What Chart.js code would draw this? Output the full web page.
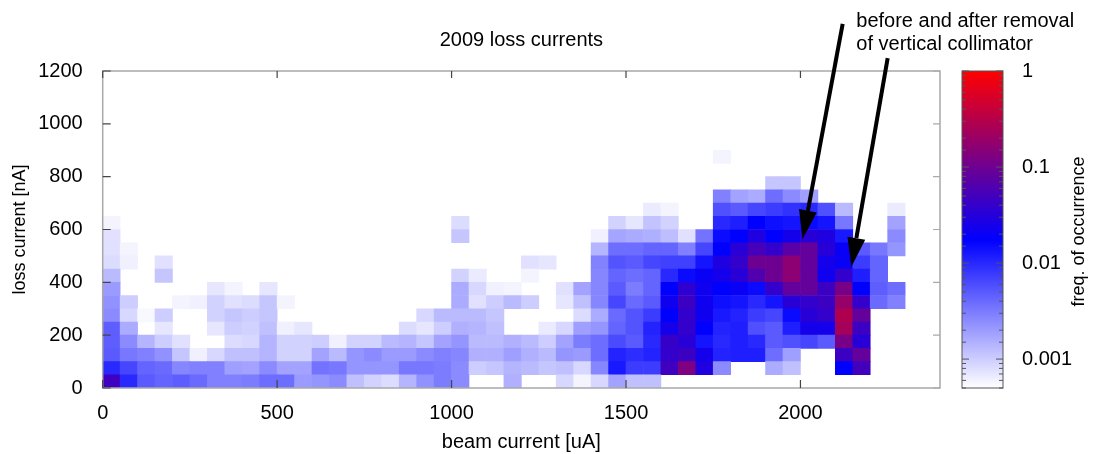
<!DOCTYPE html>
<html lang="en">
<head>
    <meta charset="UTF-8">
    <title>2009 loss currents</title>
    <script src="https://cdn.jsdelivr.net/npm/chart.js"></script>
    <style>
        html, body { margin: 0; padding: 0; background: #fff; }
        #wrap { width: 1094px; height: 454px; }
    </style>
</head>
<body>
<div id="wrap"><canvas id="lossChart" width="1094" height="454"></canvas></div>

<script>
// bin edges of the 2D histogram
const beamEdges = [0, 50, 100, 150, 200, 250, 300, 350, 400, 450, 500, 550, 600, 650, 700, 750,
    800, 850, 900, 950, 1000, 1050, 1100, 1150, 1200, 1250, 1300, 1350, 1400, 1450, 1500, 1550,
    1600, 1650, 1700, 1750, 1800, 1850, 1900, 1950, 2000, 2050, 2100, 2150, 2200, 2250, 2300];
const lossEdges = [0, 50, 100, 150, 200, 250, 300, 350, 400, 450, 500, 550, 600, 650, 700, 750, 800, 850, 900];

const xTicks = [0, 500, 1000, 1500, 2000];
const yTicks = [0, 200, 400, 600, 800, 1000, 1200];
const cbarLabels = [1, 0.1, 0.01, 0.001];

// freq. of occurrence, one array per loss current bin (0 = empty)
const row0 = [0.048, 0.01, 0.005, 0.0043, 0.0047, 0.004, 0.0029, 0.0029, 0.0031, 0.0038,
    0.0038, 0.002, 0.0022, 0.0025, 0.0012, 0.00094, 0.00081, 0.0014, 0.0023, 0.0031,
    0.0025, 0, 0, 0.0015, 0, 0, 0.00087, 0.00058, 0.00087, 0.0018,
    0.0012, 0.0012, 0, 0, 0, 0, 0, 0, 0, 0,
    0, 0, 0, 0, 0, 0];
const row1 = [0.01, 0.0066, 0.0043, 0.004, 0.0027, 0.0029, 0.0029, 0.0019, 0.0018, 0.0025,
    0.0018, 0.0018, 0.0035, 0.0033, 0.0022, 0.0022, 0.0022, 0.0033, 0.0033, 0.0031,
    0.0025, 0.001, 0.0011, 0.0014, 0.0013, 0.0011, 0.0012, 0.00087, 0.0027, 0.0123,
    0.0076, 0.0076, 0.048, 0.13, 0.028, 0.0025, 0, 0, 0.0016, 0.0012,
    0, 0, 0.0174, 0.05, 0, 0];
const row2 = [0.005, 0.0033, 0.0029, 0.0023, 0.0011, 0.00062, 0.00087, 0.0012, 0.0012, 0.0014,
    0.00094, 0.00094, 0.0018, 0.0013, 0.0022, 0.0025, 0.002, 0.002, 0.0025, 0.0029,
    0.0027, 0.0015, 0.0015, 0.0019, 0.0015, 0.0013, 0.0022, 0.002, 0.0038, 0.0107,
    0.0093, 0.0107, 0.039, 0.045, 0.024, 0.0107, 0.0115, 0.0115, 0.0038, 0.0019,
    0, 0, 0.045, 0.085, 0, 0];
const row3 = [0.0047, 0.0025, 0.0014, 0.001, 0.00076, 0, 0, 0.00081, 0.00087, 0.0014,
    0.00094, 0.00094, 0.001, 0.00062, 0.00094, 0.00094, 0.0013, 0.0014, 0.0011, 0.0018,
    0.0022, 0.0013, 0.0013, 0.0015, 0.0013, 0.001, 0.0018, 0.0031, 0.0038, 0.0062,
    0.005, 0.01, 0.042, 0.033, 0.0132, 0.01, 0.0115, 0.01, 0.005, 0.0057,
    0.0066, 0.005, 0.117, 0.033, 0, 0];
const row4 = [0.0047, 0.0016, 0, 0.00071, 0, 0, 0.00071, 0.001, 0.00094, 0.0012,
    0.00062, 0.00071, 0, 0, 0, 0, 0, 0.00081, 0.00071, 0.001,
    0.0015, 0.0014, 0.0012, 0, 0, 0.00066, 0.00087, 0.0019, 0.0022, 0.0043,
    0.0054, 0.0107, 0.024, 0.039, 0.0174, 0.0107, 0.0115, 0.0057, 0.005, 0.0115,
    0.024, 0.024, 0.24, 0.045, 0, 0];
const row5 = [0.0025, 0.00087, 0.00055, 0.001, 0, 0, 0.00094, 0.0011, 0.001, 0.0011,
    0, 0, 0, 0, 0, 0, 0, 0, 0.00087, 0.0013,
    0.0013, 0.0013, 0.0011, 0, 0, 0, 0, 0.00081, 0.0016, 0.004,
    0.0054, 0.0076, 0.0174, 0.039, 0.022, 0.0123, 0.0107, 0.0076, 0.0066, 0.0152,
    0.033, 0.039, 0.28, 0.085, 0, 0];
const row6 = [0.0023, 0.001, 0, 0, 0.00058, 0.00062, 0.00094, 0.00076, 0.00081, 0.0011,
    0.00058, 0, 0, 0, 0, 0, 0, 0, 0, 0,
    0.0016, 0.00076, 0.001, 0.0013, 0.001, 0, 0.00071, 0.0012, 0.0027, 0.0066,
    0.004, 0.005, 0.022, 0.045, 0.022, 0.0142, 0.0132, 0.01, 0.0132, 0.033,
    0.039, 0.045, 0.19, 0.039, 0.004, 0.0029];
const row7 = [0.002, 0, 0, 0, 0, 0, 0.00071, 0.00058, 0, 0.00071,
    0, 0, 0, 0, 0, 0, 0, 0, 0, 0,
    0.0016, 0.00087, 0.00062, 0.00058, 0, 0, 0.00076, 0.0018, 0.0027, 0.005,
    0.0031, 0.0043, 0.0174, 0.036, 0.022, 0.0174, 0.02, 0.0152, 0.039, 0.085,
    0.085, 0.045, 0.117, 0.0174, 0.0047, 0.0038];
const row8 = [0.0013, 0, 0, 0.0011, 0, 0, 0, 0, 0, 0,
    0, 0, 0, 0, 0, 0, 0, 0, 0, 0,
    0.00094, 0.00066, 0, 0, 0.00058, 0, 0, 0, 0.0027, 0.0043,
    0.0038, 0.0043, 0.01, 0.0152, 0.02, 0.024, 0.033, 0.062, 0.1, 0.16,
    0.085, 0.022, 0.039, 0.0115, 0.0043, 0];
const row9 = [0.00081, 0.00062, 0, 0.00076, 0, 0, 0, 0, 0, 0,
    0, 0, 0, 0, 0, 0, 0, 0, 0, 0,
    0, 0, 0, 0, 0.00076, 0.00071, 0, 0, 0.00285, 0.0054,
    0.005, 0.0066, 0.0071, 0.0071, 0.0132, 0.028, 0.039, 0.1, 0.1, 0.16,
    0.085, 0.024, 0.02, 0.0076, 0.0043, 0];
const row10 = [0.00076, 0.00058, 0, 0, 0, 0, 0, 0, 0, 0,
    0, 0, 0, 0, 0, 0, 0, 0, 0, 0,
    0, 0, 0, 0, 0, 0, 0, 0, 0.00142, 0.0038,
    0.0038, 0.0043, 0.0043, 0.0029, 0.0066, 0.0174, 0.033, 0.053, 0.039, 0.072,
    0.085, 0.033, 0.02, 0.005, 0.0033, 0.0022];
const row11 = [0.00076, 0, 0, 0, 0, 0, 0, 0, 0, 0,
    0, 0, 0, 0, 0, 0, 0, 0, 0, 0,
    0.0011, 0, 0, 0, 0, 0, 0, 0, 0.00062, 0.00176,
    0.00164, 0.00153, 0.00124, 0.00076, 0.0035, 0.015, 0.0174, 0.028, 0.0174, 0.024,
    0.033, 0.028, 0.0123, 0, 0, 0.0025];
const row12 = [0.00058, 0, 0, 0, 0, 0, 0, 0, 0, 0,
    0, 0, 0, 0, 0, 0, 0, 0, 0, 0,
    0.00081, 0, 0, 0, 0, 0, 0, 0, 0, 0.00094,
    0.00071, 0.00116, 0.00094, 0, 0, 0.01, 0.0115, 0.0174, 0.0142, 0.0132,
    0.0152, 0.0132, 0.0033, 0, 0, 0.0018];
const row13 = [0, 0, 0, 0, 0, 0, 0, 0, 0, 0,
    0, 0, 0, 0, 0, 0, 0, 0, 0, 0,
    0, 0, 0, 0, 0, 0, 0, 0, 0, 0,
    0, 0.00066, 0.00058, 0, 0, 0.0057, 0.005, 0.0066, 0.0076, 0.0087,
    0.01, 0.0057, 0.0013, 0, 0, 0.00066];
const row14 = [0, 0, 0, 0, 0, 0, 0, 0, 0, 0,
    0, 0, 0, 0, 0, 0, 0, 0, 0, 0,
    0, 0, 0, 0, 0, 0, 0, 0, 0, 0,
    0, 0, 0, 0, 0, 0.0029, 0.0018, 0.0016, 0.0038, 0.0025,
    0.0019, 0, 0, 0, 0, 0];
const row15 = [0, 0, 0, 0, 0, 0, 0, 0, 0, 0,
    0, 0, 0, 0, 0, 0, 0, 0, 0, 0,
    0, 0, 0, 0, 0, 0, 0, 0, 0, 0,
    0, 0, 0, 0, 0, 0, 0, 0, 0.0011, 0.0011,
    0, 0, 0, 0, 0, 0];
const row16 = [0, 0, 0, 0, 0, 0, 0, 0, 0, 0,
    0, 0, 0, 0, 0, 0, 0, 0, 0, 0,
    0, 0, 0, 0, 0, 0, 0, 0, 0, 0,
    0, 0, 0, 0, 0, 0, 0, 0, 0, 0,
    0, 0, 0, 0, 0, 0];
const row17 = [0, 0, 0, 0, 0, 0, 0, 0, 0, 0,
    0, 0, 0, 0, 0, 0, 0, 0, 0, 0,
    0, 0, 0, 0, 0, 0, 0, 0, 0, 0,
    0, 0, 0, 0, 0, 0.00058, 0, 0, 0, 0,
    0, 0, 0, 0, 0, 0];

const freqRows = [row0, row1, row2, row3, row4, row5, row6, row7, row8, row9,
    row10, row11, row12, row13, row14, row15, row16, row17];

// annotation arrows, in data units (uA, nA)
const arrowTails = [[2121, 1378], [2250, 1249]];
const arrowTips = [[2006, 563], [2146, 459]];
const noteLines = ['before and after removal', 'of vertical collimator'];

// colour scale: white -> blue -> red on log10(freq)
const cbMin = 0.0005, cbMax = 1;
const BLUE_AT = 0.467;

function heatColor(f) {
    const lo = Math.log10(cbMin), hi = Math.log10(cbMax);
    let t = (Math.log10(f) - lo) / (hi - lo);
    t = Math.max(0, Math.min(1, t));
    if (t <= BLUE_AT) {
        const c = Math.round(255 * (1 - t / BLUE_AT));
        return 'rgb(' + c + ',' + c + ',255)';
    }
    const k = (t - BLUE_AT) / (1 - BLUE_AT);
    return 'rgb(' + Math.round(255 * k) + ',0,' + Math.round(255 * (1 - k)) + ')';
}

function isLabelled(v) {
    return cbarLabels.find(c => Math.abs(v - c) / c < 1e-6);
}

// one floating-bar dataset per loss current bin
const datasets = freqRows.map((row, j) => {
    const cells = [];
    row.forEach((f, i) => {
        if (f > 0) {
            cells.push({ x: (beamEdges[i] + beamEdges[i + 1]) / 2, y: [lossEdges[j], lossEdges[j + 1]], f: f });
        }
    });
    return {
        label: lossEdges[j] + '-' + lossEdges[j + 1] + ' nA',
        data: cells,
        backgroundColor: cells.map(c => heatColor(c.f)),
        borderWidth: 0,
        grouped: false,
        barPercentage: 1,
        categoryPercentage: 1
    };
});

function drawArrow(ctx, x0, y0, x1, y1) {
    const ang = Math.atan2(y1 - y0, x1 - x0);
    const headLen = 29, headHalf = 9;
    const bx = x1 - headLen * Math.cos(ang), by = y1 - headLen * Math.sin(ang);
    ctx.beginPath();
    ctx.moveTo(x0, y0);
    ctx.lineTo(bx, by);
    ctx.lineWidth = 4;
    ctx.strokeStyle = '#000';
    ctx.stroke();
    ctx.beginPath();
    ctx.moveTo(x1, y1);
    ctx.lineTo(bx + headHalf * Math.sin(ang), by - headHalf * Math.cos(ang));
    ctx.lineTo(bx - headHalf * Math.sin(ang), by + headHalf * Math.cos(ang));
    ctx.closePath();
    ctx.fillStyle = '#000';
    ctx.fill();
}

// frame, inward ticks, colour bar and the annotation
const decorations = {
    id: 'decorations',
    afterDatasetsDraw(chart) {
        const { ctx, chartArea: a, scales: { x, y, cb } } = chart;
        ctx.save();

        ctx.strokeStyle = '#a8a8a8';
        ctx.lineWidth = 1.5;
        ctx.strokeRect(a.left, a.top, a.right - a.left, a.bottom - a.top);

        ctx.strokeStyle = '#444';
        ctx.lineWidth = 1.2;
        ctx.beginPath();
        xTicks.forEach(v => {
            const px = x.getPixelForValue(v);
            ctx.moveTo(px, a.bottom); ctx.lineTo(px, a.bottom - 8);
            ctx.moveTo(px, a.top); ctx.lineTo(px, a.top + 7);
        });
        yTicks.forEach(v => {
            const py = y.getPixelForValue(v);
            ctx.moveTo(a.left, py); ctx.lineTo(a.left + 8, py);
        });
        ctx.stroke();
        ctx.strokeStyle = '#aaa';
        ctx.beginPath();
        yTicks.forEach(v => {
            const py = y.getPixelForValue(v);
            ctx.moveTo(a.right, py); ctx.lineTo(a.right - 7, py);
        });
        ctx.stroke();

        // colour bar
        const top = cb.getPixelForValue(cbMax), bottom = cb.getPixelForValue(cbMin);
        const left = a.right + 22, width = 41;
        const grad = ctx.createLinearGradient(0, bottom, 0, top);
        grad.addColorStop(0, '#ffffff');
        grad.addColorStop(BLUE_AT, '#0000ff');
        grad.addColorStop(1, '#ff0000');
        ctx.fillStyle = grad;
        ctx.fillRect(left, top, width, bottom - top);
        ctx.strokeStyle = '#555';
        ctx.lineWidth = 1;
        ctx.strokeRect(left, top, width, bottom - top);
        ctx.beginPath();
        cb.ticks.forEach(t => {
            const py = cb.getPixelForValue(t.value);
            const len = isLabelled(t.value) !== undefined ? 7 : 4;
            ctx.moveTo(left, py); ctx.lineTo(left + len, py);
            ctx.moveTo(left + width, py); ctx.lineTo(left + width - len, py);
        });
        ctx.stroke();

        ctx.fillStyle = '#000';
        ctx.font = "18px 'Liberation Sans', Arial, sans-serif";
        ctx.textAlign = 'center';
        ctx.textBaseline = 'middle';
        ctx.translate(a.right + 139, (a.top + a.bottom) / 2 + 2);
        ctx.rotate(-Math.PI / 2);
        ctx.fillText('freq. of occurrence', 0, 0);
        ctx.restore();
    },
    afterDraw(chart) {
        const { ctx, chartArea: a, scales: { x, y } } = chart;
        ctx.save();
        arrowTails.forEach((tail, i) => {
            drawArrow(ctx, x.getPixelForValue(tail[0]), y.getPixelForValue(tail[1]),
                x.getPixelForValue(arrowTips[i][0]), y.getPixelForValue(arrowTips[i][1]));
        });
        ctx.fillStyle = '#000';
        ctx.font = "20px 'Liberation Sans', Arial, sans-serif";
        ctx.textAlign = 'left';
        ctx.textBaseline = 'middle';
        const tx = x.getPixelForValue(2160);
        ctx.fillText(noteLines[0], tx, a.top - 50);
        ctx.fillText(noteLines[1], tx, a.top - 26.5);
        ctx.restore();
    }
};

Chart.defaults.font.family = "'Liberation Sans', Arial, sans-serif";
Chart.defaults.color = '#000';

const chart = new Chart(document.getElementById('lossChart'), {
    type: 'bar',
    data: { datasets: datasets },
    options: {
        responsive: false,
        animation: false,
        events: [],
        layout: { padding: 0 },
        plugins: {
            legend: { display: false },
            tooltip: { enabled: false },
            title: {
                display: true,
                text: '2009 loss currents',
                fullSize: false,
                font: { size: 20, weight: 'normal' },
                color: '#000',
                padding: { top: 28.3, bottom: 18.7 }
            }
        },
        scales: {
            x: {
                type: 'linear',
                min: 0,
                max: 2400,
                offset: false,
                grid: { display: false, offset: false, drawTicks: false },
                border: { display: false },
                ticks: { padding: 13, font: { size: 20 }, callback: v => String(v) },
                afterBuildTicks: s => { s.ticks = xTicks.map(v => ({ value: v })); },
                afterFit: s => { s.height = 66; },
                title: { display: true, text: 'beam current [uA]', font: { size: 20 }, padding: { top: 0, bottom: 0 } }
            },
            y: {
                type: 'linear',
                min: 0,
                max: 1200,
                grid: { display: false, drawTicks: false },
                border: { display: false },
                ticks: { padding: 20, font: { size: 20 }, callback: v => String(v) },
                afterBuildTicks: s => { s.ticks = yTicks.map(v => ({ value: v })); },
                afterFit: s => { s.width = 102.7; s.paddingTop = 0; s.paddingBottom = 0; },
                title: { display: true, text: 'loss current [nA]', font: { size: 18 }, padding: { top: 9, bottom: 0 } }
            },
            cb: {
                type: 'logarithmic',
                position: 'right',
                min: cbMin,
                max: cbMax,
                grid: { display: false, drawTicks: false },
                border: { display: false },
                ticks: {
                    padding: 82,
                    autoSkip: false,
                    font: { size: 20 },
                    callback: v => {
                        const hit = isLabelled(v);
                        return hit !== undefined ? String(hit) : '';
                    }
                },
                afterFit: s => { s.width = 154; s.paddingTop = 0; s.paddingBottom = 0; }
            }
        }
    },
    plugins: [decorations]
});
</script>
</body>
</html>
